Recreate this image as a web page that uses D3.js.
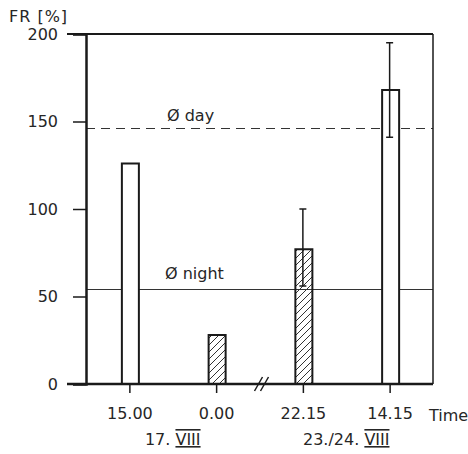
<!DOCTYPE html>
<html>
<head>
<meta charset="utf-8">
<script src="https://cdn.jsdelivr.net/npm/d3@7"></script>
<style>
  body { margin: 0; background: #fff; }
  text { font-family: "DejaVu Sans", sans-serif; fill: #262626; }
</style>
</head>
<body>
<div id="chart"></div>
<script>
// Data
const times = ["15.00", "0.00", "22.15", "14.15"];
const frValues = [126, 28, 77, 168];
const hatched = [false, true, true, false];
const errHigh = [null, null, 100, 195];
const errLow = [null, null, 56, 141];
const dayMean = 146;
const nightMean = 54;
const yTicks = [0, 50, 100, 150, 200];
const dateLabels = ["17. ", "23./24. "];
const dateSpans = [[0, 1], [2, 3]];

const W = 468, H = 454;
const margin = { top: 34, right: 35, bottom: 70, left: 86 };
const width = W - margin.left - margin.right;
const height = H - margin.top - margin.bottom;
const fontSize = "16px";

const svg = d3.select("#chart").append("svg")
    .attr("width", W)
    .attr("height", H);

// hatch pattern for the night bars
svg.append("defs").append("pattern")
    .attr("id", "hatch")
    .attr("patternUnits", "userSpaceOnUse")
    .attr("width", 7)
    .attr("height", 7)
    .append("path")
    .attr("d", "M-1,8 L8,-1 M-1,1 L1,-1 M6,8 L8,6")
    .attr("stroke", "#333")
    .attr("stroke-width", 1);

const g = svg.append("g")
    .attr("transform", `translate(${margin.left},${margin.top})`);

const x = d3.scalePoint()
    .domain(times)
    .range([0, width])
    .padding(0.5);

const y = d3.scaleLinear()
    .domain([0, 200])
    .range([height, 0]);

const barW = 17;

// mean lines
g.append("line")
    .attr("x1", 0).attr("x2", width)
    .attr("y1", y(dayMean)).attr("y2", y(dayMean))
    .attr("stroke", "#333")
    .attr("stroke-width", 1.2)
    .attr("stroke-dasharray", "9,6");

g.append("line")
    .attr("x1", 0).attr("x2", width)
    .attr("y1", y(nightMean)).attr("y2", y(nightMean))
    .attr("stroke", "#333")
    .attr("stroke-width", 1.2);

g.append("text")
    .attr("x", 81).attr("y", y(dayMean) - 8)
    .style("font-size", fontSize)
    .text("Ø day");

g.append("text")
    .attr("x", 79).attr("y", y(nightMean) - 11)
    .style("font-size", fontSize)
    .text("Ø night");

// bars
g.selectAll("rect.bar")
    .data(times)
    .join("rect")
    .attr("class", "bar")
    .attr("x", d => x(d) - barW / 2 + 1)
    .attr("y", (d, i) => y(frValues[i]))
    .attr("width", barW)
    .attr("height", (d, i) => height - y(frValues[i]))
    .attr("fill", (d, i) => hatched[i] ? "url(#hatch)" : "#fff")
    .attr("stroke", "#1a1a1a")
    .attr("stroke-width", 2);

// error bars
const errs = times.map((t, i) => ({ t, hi: errHigh[i], lo: errLow[i] }))
    .filter(d => d.hi !== null);

const eg = g.selectAll("g.err")
    .data(errs)
    .join("g")
    .attr("class", "err")
    .attr("stroke", "#1a1a1a")
    .attr("stroke-width", 1.5);

eg.append("line")
    .attr("x1", d => x(d.t)).attr("x2", d => x(d.t))
    .attr("y1", d => y(d.hi)).attr("y2", d => y(d.lo));
eg.append("line")
    .attr("x1", d => x(d.t) - 3.5).attr("x2", d => x(d.t) + 3.5)
    .attr("y1", d => y(d.hi)).attr("y2", d => y(d.hi));
eg.append("line")
    .attr("x1", d => x(d.t) - 3.5).attr("x2", d => x(d.t) + 3.5)
    .attr("y1", d => y(d.lo)).attr("y2", d => y(d.lo));

// frame: top, right
g.append("line")
    .attr("x1", -19).attr("x2", width)
    .attr("y1", 0).attr("y2", 0)
    .attr("stroke", "#1a1a1a").attr("stroke-width", 2);
g.append("line")
    .attr("x1", width).attr("x2", width)
    .attr("y1", 0).attr("y2", height)
    .attr("stroke", "#1a1a1a").attr("stroke-width", 1.5);

// y axis
const yAxis = g.append("g")
    .call(d3.axisLeft(y).tickValues(yTicks).tickSize(13).tickPadding(15));
yAxis.select(".domain").attr("stroke", "#1a1a1a").attr("stroke-width", 2.5);
yAxis.selectAll(".tick line").attr("stroke", "#1a1a1a").attr("stroke-width", 1.5);
yAxis.selectAll(".tick text")
    .style("font-size", fontSize)
    .style("font-family", "DejaVu Sans")
    .attr("fill", "#262626");

// x axis
const xAxis = g.append("g")
    .attr("transform", `translate(0,${height})`)
    .call(d3.axisBottom(x).tickSize(9).tickPadding(15).tickSizeOuter(0));
xAxis.select(".domain").remove();
xAxis.selectAll(".tick line").attr("stroke", "#1a1a1a").attr("stroke-width", 1.5);
xAxis.selectAll(".tick text")
    .style("font-size", fontSize)
    .style("font-family", "DejaVu Sans")
    .attr("fill", "#262626");

g.append("line")
    .attr("x1", -19).attr("x2", width)
    .attr("y1", height).attr("y2", height)
    .attr("stroke", "#1a1a1a").attr("stroke-width", 2.5);

// axis break marks
const bx = (x(times[1]) + x(times[2])) / 2 + 2;
[-3, 3].forEach(dx => {
    g.append("line")
        .attr("x1", bx + dx - 4).attr("x2", bx + dx + 4)
        .attr("y1", height + 7).attr("y2", height - 7)
        .attr("stroke", "#1a1a1a").attr("stroke-width", 1.5);
});

// axis titles
svg.append("text")
    .attr("x", 9).attr("y", 22)
    .style("font-size", fontSize)
    .style("letter-spacing", "1px")
    .text("FR [%]");

g.append("text")
    .attr("x", width - 4).attr("y", height + 37)
    .style("font-size", fontSize)
    .text("Time");

// date labels under the time ticks
dateSpans.forEach((s, i) => {
    const cx = (x(times[s[0]]) + x(times[s[1]])) / 2;
    const t = g.append("text")
        .attr("x", cx).attr("y", height + 61)
        .attr("text-anchor", "middle")
        .style("font-size", fontSize);
    t.append("tspan").text(dateLabels[i]);
    t.append("tspan")
        .style("text-decoration", "underline overline")
        .text("VIII");
});
</script>
</body>
</html>
